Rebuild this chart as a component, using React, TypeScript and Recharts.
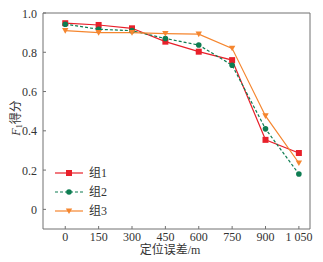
import React from "react";
import { LineChart, Line, XAxis, YAxis, ReferenceLine } from "recharts";

const errors = [0, 150, 300, 450, 600, 750, 900, 1050];
const group1 = [0.948, 0.939, 0.922, 0.854, 0.803, 0.76, 0.354, 0.287];
const group2 = [0.943, 0.917, 0.91, 0.87, 0.837, 0.734, 0.41, 0.18];
const group3 = [0.91, 0.9, 0.9, 0.895, 0.892, 0.82, 0.476, 0.236];
const seriesNames = ["组1", "组2", "组3"];
const yTicks = [0, 0.2, 0.4, 0.6, 0.8, 1.0];

const data = errors.map((e, i) => ({
  err: e,
  g1: group1[i],
  g2: group2[i],
  g3: group3[i],
}));

const RED = "#e8202a";
const GREEN = "#0e7d52";
const ORANGE = "#f5862f";
const AXIS = "#707070";
const FONT = "'Liberation Serif', 'Noto Sans CJK SC', serif";

const Square = (props: any) => {
  const { cx, cy } = props;
  if (cx == null || cy == null) return null;
  return <rect x={cx - 3} y={cy - 3} width={6} height={6} fill={RED} />;
};
const Dot = (props: any) => {
  const { cx, cy } = props;
  if (cx == null || cy == null) return null;
  return <circle cx={cx} cy={cy} r={2.8} fill={GREEN} />;
};
const Tri = (props: any) => {
  const { cx, cy } = props;
  if (cx == null || cy == null) return null;
  return (
    <path d={`M${cx - 3.2},${cy - 2.6} L${cx + 3.2},${cy - 2.6} L${cx},${cy + 3} Z`} fill={ORANGE} />
  );
};

const YTick = (props: any) => {
  const { x, y, payload } = props;
  const v = payload.value;
  return (
    <g>
      <line x1={x} x2={x + 3} y1={y} y2={y} stroke={AXIS} />
      <text x={x - 6} y={y + 4.5} textAnchor="end" fontSize={12} fill="#333" fontFamily={FONT}>
        {v === 0 ? "0" : v.toFixed(1)}
      </text>
    </g>
  );
};

const XTick = (props: any) => {
  const { x, y, payload } = props;
  const v = payload.value;
  const label = v >= 1000 ? `${Math.floor(v / 1000)} ${String(v % 1000).padStart(3, "0")}` : String(v);
  return (
    <g>
      <line x1={x} x2={x} y1={y} y2={y - 3} stroke={AXIS} />
      <text x={x} y={y + 12} textAnchor="middle" fontSize={12} fill="#333" fontFamily={FONT}>
        {label}
      </text>
    </g>
  );
};

const LegendBox = () => {
  const rows = [
    { name: seriesNames[0], color: RED, dash: undefined, mark: "sq" },
    { name: seriesNames[1], color: GREEN, dash: "3 2", mark: "ci" },
    { name: seriesNames[2], color: ORANGE, dash: undefined, mark: "tr" },
  ];
  return (
    <div style={{ position: "absolute", left: 55, top: 163 }}>
      {rows.map((r) => (
        <div key={r.name} style={{ display: "flex", alignItems: "center", height: 19 }}>
          <svg width={34} height={10}>
            <line x1={0} x2={28} y1={5} y2={5} stroke={r.color} strokeWidth={1.2} strokeDasharray={r.dash} />
            {r.mark === "sq" && <rect x={11} y={2} width={6} height={6} fill={r.color} />}
            {r.mark === "ci" && <circle cx={14} cy={5} r={2.8} fill={r.color} />}
            {r.mark === "tr" && <path d="M10.8,2.4 L17.2,2.4 L14,8 Z" fill={r.color} />}
          </svg>
          <span style={{ fontFamily: FONT, fontSize: 12, color: "#333", lineHeight: "12px" }}>{r.name}</span>
        </div>
      ))}
    </div>
  );
};

export default function App() {
  return (
    <div style={{ position: "absolute", left: 0, top: 0, width: 323, height: 262, background: "#fff" }}>
      <LineChart width={323} height={262} data={data} margin={{ top: 13, right: 13, left: 0, bottom: 0 }}>
        <XAxis
          dataKey="err"
          type="number"
          domain={[-100, 1100]}
          ticks={errors}
          height={33}
          tickSize={0}
          tickMargin={0}
          tickLine={false}
          axisLine={{ stroke: AXIS }}
          tick={<XTick />}
          label={() => (
            <text x={170} y={254} textAnchor="middle" fontSize={12} fill="#333" fontFamily={FONT}>
              定位误差/m
            </text>
          )}
        />
        <YAxis
          type="number"
          domain={[-0.1, 1.0]}
          ticks={yTicks}
          width={43}
          tickSize={0}
          tickMargin={0}
          tickLine={false}
          axisLine={{ stroke: AXIS }}
          tick={<YTick />}
          label={(p: any) => {
            const vb = p.viewBox || {};
            const cx = 16;
            const cy = (vb.y ?? 13) + (vb.height ?? 216) / 2 - 3;
            return (
              <text
                x={cx}
                y={cy}
                transform={`rotate(-90 ${cx} ${cy})`}
                textAnchor="middle"
                fontSize={12}
                fill="#333"
                fontFamily={FONT}
                dominantBaseline="central"
              >
                <tspan fontStyle="italic">F</tspan>
                <tspan fontSize={8} dy={3}>1</tspan>
                <tspan dy={-3}>得分</tspan>
              </text>
            );
          }}
        />
        <ReferenceLine y={1.0} stroke={AXIS} />
        <ReferenceLine x={1100} stroke={AXIS} />
        <Line
          dataKey="g1"
          name={seriesNames[0]}
          stroke={RED}
          strokeWidth={1.2}
          dot={<Square />}
          activeDot={false}
          isAnimationActive={false}
        />
        <Line
          dataKey="g2"
          name={seriesNames[1]}
          stroke={GREEN}
          strokeWidth={1.2}
          strokeDasharray="3 2"
          dot={<Dot />}
          activeDot={false}
          isAnimationActive={false}
        />
        <Line
          dataKey="g3"
          name={seriesNames[2]}
          stroke={ORANGE}
          strokeWidth={1.2}
          dot={<Tri />}
          activeDot={false}
          isAnimationActive={false}
        />
      </LineChart>
      <LegendBox />
    </div>
  );
}
